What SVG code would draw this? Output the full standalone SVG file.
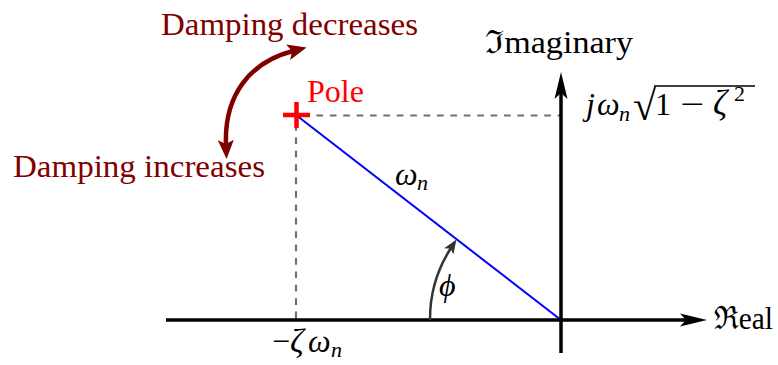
<svg xmlns="http://www.w3.org/2000/svg" width="778" height="365" viewBox="0 0 778 365">
<style>
text{font-family:"Liberation Serif","DejaVu Serif",serif;}
.lbl{font-size:31px;}
.dr{fill:#800000;}
.m{font-size:32px;fill:#000;}
.mi{font-style:italic;}
.sub{font-size:22px;}
.axis{stroke:#000;stroke-width:3.5;fill:none;}
.dash{stroke:#707070;stroke-width:2.2;stroke-dasharray:6.7 6.7;fill:none;}
</style>
<defs>
<marker id="ah" markerUnits="userSpaceOnUse" viewBox="-10 -8 30 16" refX="0" refY="0" markerWidth="30" markerHeight="16" orient="auto">
<path d="M17,0 L-10,-6.5 L-4,0 L-10,6.5 Z" fill="#000"/>
</marker>
<marker id="ahr" markerUnits="userSpaceOnUse" viewBox="-6 -9 22 18" refX="0" refY="0" markerWidth="22" markerHeight="18" orient="auto-start-reverse">
<path d="M14,0 L-5,-8 L-1,0 L-5,8 Z" fill="#800000"/>
</marker>
<marker id="ahg" markerUnits="userSpaceOnUse" viewBox="-6 -6 18 12" refX="0" refY="0" markerWidth="18" markerHeight="12" orient="auto">
<path d="M10,0 L-4,-5.5 L-1,0 L-4,5.5 Z" fill="#333"/>
</marker>
</defs>
<g id="connectors">
<line class="dash" x1="303" y1="115.5" x2="561" y2="115.5"/>
<line class="dash" x1="296" y1="124" x2="296" y2="320"/>
<line x1="296" y1="115" x2="561" y2="320" stroke="#0000ff" stroke-width="2"/>
<line class="axis" x1="166" y1="320" x2="690" y2="320" marker-end="url(#ah)"/>
<line class="axis" x1="561" y1="353" x2="561" y2="89" marker-end="url(#ah)"/>
<path d="M430,320 A131,131 0 0 1 451,248" stroke="#333" stroke-width="2.5" fill="none" marker-end="url(#ahg)"/>
<path d="M226,145 C224,95 250,62 293,51" stroke="#800000" stroke-width="4.5" fill="none" marker-start="url(#ahr)" marker-end="url(#ahr)"/>
</g>
<g id="pole">
<path d="M283,115 H310 M296.5,102 V128" stroke="#ff0000" stroke-width="4.5"/>
<text class="lbl" x="307" y="101.5" fill="#ff0000" textLength="57" lengthAdjust="spacingAndGlyphs">Pole</text>
</g>
<g id="damping-decreases">
<text class="lbl dr" x="161" y="35" textLength="257" lengthAdjust="spacingAndGlyphs">Damping decreases</text>
</g>
<g id="damping-increases">
<text class="lbl dr" x="13" y="177" textLength="252" lengthAdjust="spacingAndGlyphs">Damping increases</text>
</g>
<g id="imag-label">
<text class="m" x="485" y="53" font-size="30" textLength="148" lengthAdjust="spacingAndGlyphs">ℑmaginary</text>
</g>
<g id="real-label">
<text class="m" x="714" y="329" font-size="30" textLength="59" lengthAdjust="spacingAndGlyphs">ℜeal</text>
</g>
<g id="imag-value">
<text class="m mi" x="586" y="115">j</text>
<text class="m mi" x="597" y="115">ω</text>
<text class="m mi sub" x="619" y="121">n</text>
<text class="m" x="633" y="120" style="font-size:42px">√</text>
<line x1="654" y1="86" x2="755" y2="86" stroke="#000" stroke-width="1.6"/>
<text class="m" x="655" y="115">1</text>
<text class="m" x="680" y="115" textLength="24" lengthAdjust="spacingAndGlyphs">−</text>
<text class="m mi" x="713" y="115" style="font-size:35px">ζ</text>
<text class="m sub" x="734" y="101">2</text>
</g>
<g id="wn-label">
<text class="m mi" x="395" y="185">ω</text>
<text class="m mi sub" x="417" y="190">n</text>
</g>
<g id="phi-label">
<text class="m mi" x="439" y="296">ϕ</text>
</g>
<g id="zeta-label">
<text class="m" x="272" y="352">−</text>
<text class="m mi" x="290" y="352" style="font-size:34px">ζ</text>
<text class="m mi" x="308" y="352">ω</text>
<text class="m mi sub" x="331" y="357">n</text>
</g>
</svg>
